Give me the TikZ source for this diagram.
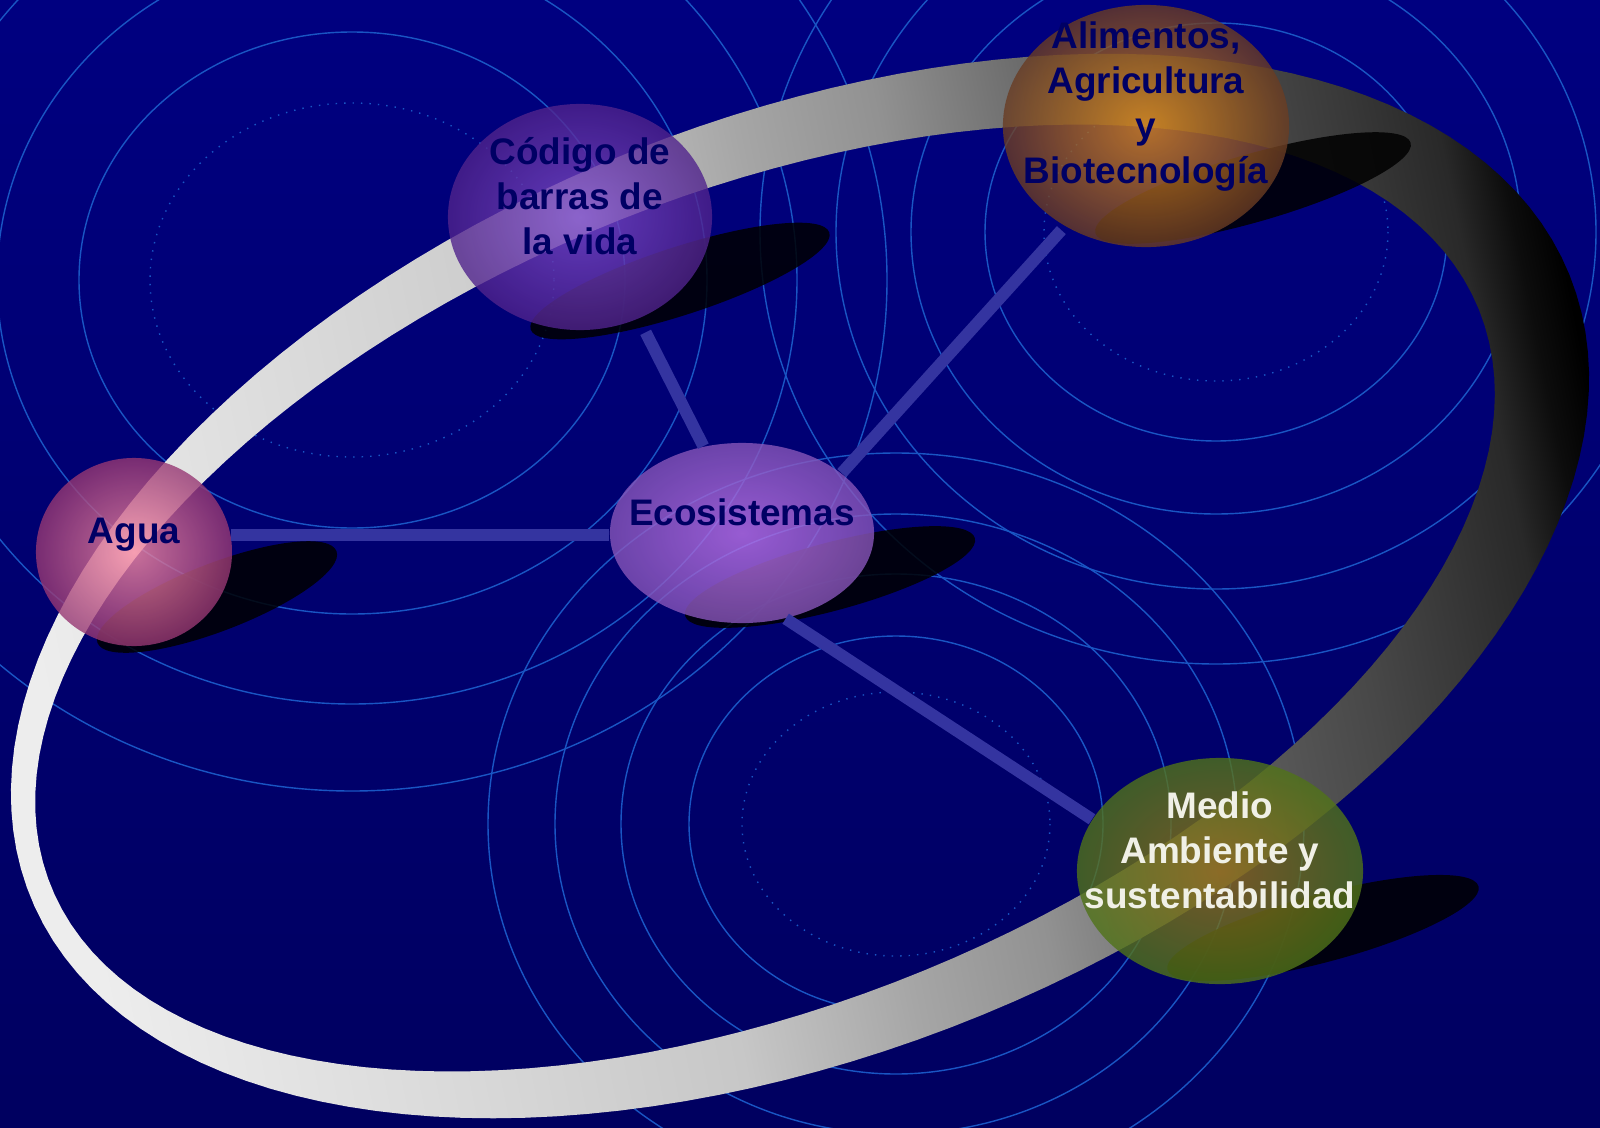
\documentclass[tikz,border=0pt]{standalone}
\usepackage{fontspec}
\setmainfont{Liberation Sans}
\usetikzlibrary{shapes.geometric}
\definecolor{bgtop}{RGB}{0,0,128}
\definecolor{bgmid}{RGB}{0,0,160}
\definecolor{bgbot}{RGB}{0,0,96}
\definecolor{ringc}{RGB}{25,85,195}
\definecolor{linkc}{RGB}{52,52,160}
\definecolor{txtc}{RGB}{0,0,100}
\definecolor{aguain}{RGB}{250,140,165}\definecolor{aguaout}{RGB}{150,55,115}
\definecolor{codin}{RGB}{125,75,205}\definecolor{codout}{RGB}{80,35,140}
\definecolor{ecoin}{RGB}{190,115,235}\definecolor{ecoout}{RGB}{135,85,185}
\definecolor{aliin}{RGB}{225,140,25}\definecolor{aliout}{RGB}{105,60,35}
\definecolor{medin}{RGB}{150,110,25}\definecolor{medout}{RGB}{80,115,25}
\pgfdeclarehorizontalshading{bandgrad}{100bp}{color(0bp)=(white!93!black); color(24.5bp)=(white!93!black);
  color(35.8bp)=(white!85!black); color(45bp)=(white!78!black); color(51bp)=(white!65!black);
  color(55.7bp)=(white!57!black); color(62bp)=(white!38!black); color(68bp)=(white!28!black);
  color(71bp)=(white!22!black); color(73.8bp)=(white!16!black); color(75.6bp)=(white!5!black);
  color(77bp)=(black); color(100bp)=(black)}
\begin{document}
\begin{tikzpicture}[x=0.01cm,y=-0.01cm,
  ring/.style={draw=ringc,line width=0.4pt},
  ringdot/.style={ring,dotted},
  shadow/.style={fill=black,opacity=0.85},
  ball/.style={ellipse,inner sep=0pt,fill opacity=0.8},
  link/.style={draw=linkc,line width=3.4pt},
  txt/.style={align=center,inner sep=0pt,text=txtc,font=\bfseries\fontsize{10.5}{12.8}\selectfont}]
  \useasboundingbox (0,0) rectangle (1600,1127);
  \shade[top color=bgtop,middle color=bgmid,bottom color=bgbot] (0,0) rectangle (1600,1127);
  \begin{scope}
    \clip (0,0) rectangle (1600,1127);
    \draw[ringdot] (352,280) ellipse [x radius=202,y radius=177];
    \foreach \rx/\ry in {273/248,355/334,445/424,535/511}{\draw[ring] (352,280) ellipse [x radius=\rx,y radius=\ry];}
    \draw[ringdot] (1216,232) ellipse [x radius=172,y radius=149];
    \foreach \rx/\ry in {231/209,305/282,380/357,456/432}{\draw[ring] (1216,232) ellipse [x radius=\rx,y radius=\ry];}
    \draw[ringdot] (896,824) ellipse [x radius=154,y radius=132];
    \foreach \rx/\ry in {207/188,275/250,341/310,408/371}{\draw[ring] (896,824) ellipse [x radius=\rx,y radius=\ry];}
  \end{scope}
  \begin{scope}[even odd rule]
    \clip plot[domain=0:360,samples=150,variable=\t]
        ({800+830*cos(22)*cos(\t)-466*sin(22)*sin(\t)},{586-830*sin(22)*cos(\t)-466*cos(22)*sin(\t)}) -- cycle
      plot[domain=0:360,samples=150,variable=\t]
        ({765+770*cos(22)*cos(\t)-405*sin(22)*sin(\t)},{598-770*sin(22)*cos(\t)-405*cos(22)*sin(\t)}) -- cycle;
    \shade[shading=bandgrad,shading angle=11.5] (0,40) rectangle (1600,1127);
  \end{scope}
  \foreach \cx/\cy/\a/\r in {217/597/128/21,680/281/157/18,830/577/150/15,1253/188/164/16,1323/928/161/15}
    {\fill[shadow,rotate around={\r:(\cx,\cy)}] (\cx,\cy) ellipse [x radius=\a,y radius=34];}
  \node[ball,minimum width=1.96cm,minimum height=1.88cm,inner color=aguain,outer color=aguaout] (agua) at (134,552) {};
  \node[ball,minimum width=2.64cm,minimum height=2.26cm,inner color=codin,outer color=codout] (cod) at (580,217) {};
  \node[ball,minimum width=2.64cm,minimum height=1.80cm,inner color=ecoin,outer color=ecoout] (eco) at (742,533) {};
  \node[ball,minimum width=2.86cm,minimum height=2.42cm,inner color=aliin,outer color=aliout] (ali) at (1146,126) {};
  \node[ball,minimum width=2.86cm,minimum height=2.26cm,inner color=medin,outer color=medout] (med) at (1220,871) {};
  \draw[link] (agua.10) -- (agua.10 -| eco.west);
  \draw[link,shorten <=0.15cm] (cod.-60) -- (eco.114);
  \draw[link,shorten <=0.05cm] (ali.-129) -- (eco.31);
  \draw[link] (eco.-63) -- (med.158);
  \node[txt] (aguatxt) at ([yshift=0.17cm]agua.center) {Agua};
  \node[txt] (codtxt) at ([yshift=0.21cm]cod.center) {Código de\\barras de\\la vida};
  \node[txt] (ecotxt) at ([yshift=0.21cm]eco.center) {Ecosistemas};
  \node[txt] (alitxt) at ([yshift=0.19cm]ali.center) {Alimentos,\\Agricultura\\y\\Biotecnología};
  \node[txt,text={rgb,255:red,240;green,240;blue,230}] (medtxt) at ([yshift=0.21cm]med.center) {Medio\\Ambiente y\\sustentabilidad};
\end{tikzpicture}
\end{document}
